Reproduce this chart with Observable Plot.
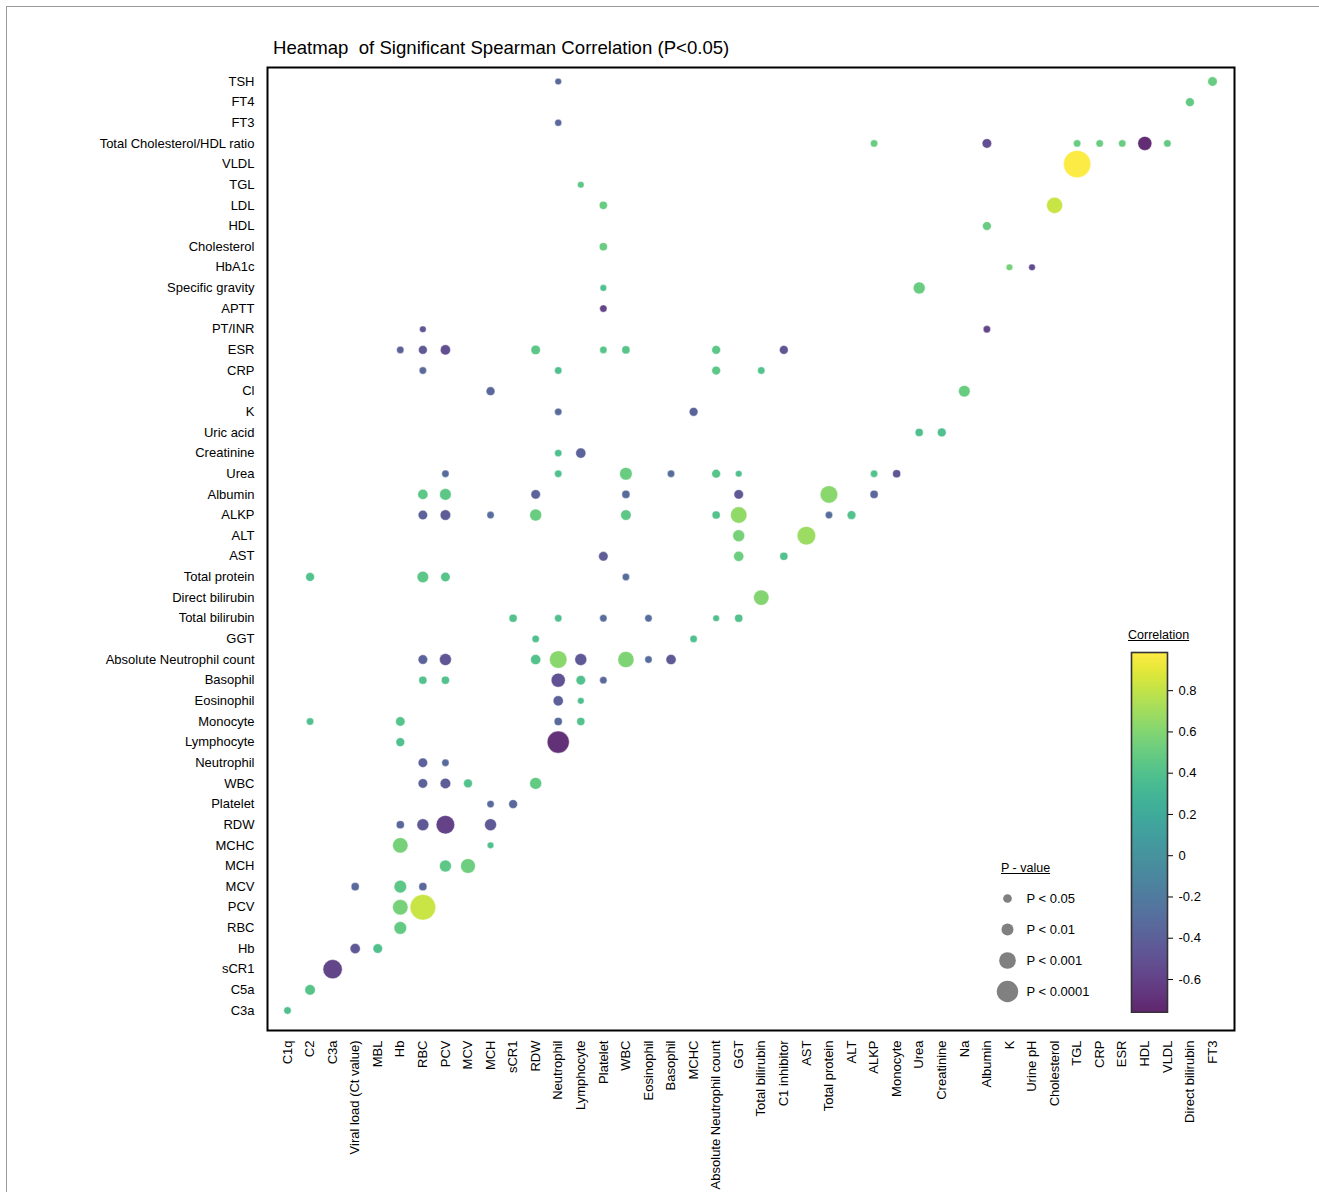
<!DOCTYPE html>
<html>
<head>
<meta charset="utf-8">
<script src="https://cdn.jsdelivr.net/npm/d3@7"></script>
<script src="https://cdn.jsdelivr.net/npm/@observablehq/plot@0.6"></script>
<style>
  html, body { margin: 0; padding: 0; background: #fff; }
  body { width: 1319px; height: 1192px; overflow: hidden; font-family: "Liberation Sans", Arial, Helvetica, sans-serif; }
  #wrap { position: relative; width: 1319px; height: 1192px; }
  #border { position: absolute; left: 6px; top: 6px; width: 1320px; height: 1200px; border-top: 1.5px solid #9a9a9a; border-left: 1.5px solid #9a9a9a; }
  #title { position: absolute; left: 273px; top: 37px; font-size: 18.6px; color: #000; white-space: pre; }
  .ltitle { position: absolute; font-size: 12.5px; text-decoration: underline; color: #000; }
  .over { position: absolute; }
</style>
</head>
<body>
<div id="wrap">
  <div id="border"></div>
  <div id="main" class="over" style="left:0;top:0"></div>
  <div id="title">Heatmap  of Significant Spearman Correlation (P&lt;0.05)</div>
  <div class="ltitle" style="left:1128px;top:628px">Correlation</div>
  <div id="cbar" class="over" style="left:1130px;top:651px"></div>
  <div class="ltitle" style="left:1001px;top:861px">P - value</div>
  <div id="plegend" class="over" style="left:985px;top:880px"></div>
</div>
<script>
// ---- Categories ----
const xCategories = ["C1q","C2","C3a","Viral load (Ct value)","MBL","Hb","RBC","PCV","MCV","MCH","sCR1","RDW",
  "Neutrophil","Lymphocyte","Platelet","WBC","Eosinophil","Basophil","MCHC","Absolute Neutrophil count","GGT",
  "Total bilirubin","C1 inhibitor","AST","Total protein","ALT","ALKP","Monocyte","Urea","Creatinine","Na",
  "Albumin","K","Urine pH","Cholesterol","TGL","CRP","ESR","HDL","VLDL","Direct bilirubin","FT3"];

const yCategories = ["TSH","FT4","FT3","Total Cholesterol/HDL ratio","VLDL","TGL","LDL","HDL","Cholesterol","HbA1c",
  "Specific gravity","APTT","PT/INR","ESR","CRP","Cl","K","Uric acid","Creatinine","Urea","Albumin","ALKP","ALT",
  "AST","Total protein","Direct bilirubin","Total bilirubin","GGT","Absolute Neutrophil count","Basophil","Eosinophil",
  "Monocyte","Lymphocyte","Neutrophil","WBC","Platelet","RDW","MCHC","MCH","MCV","PCV","RBC","Hb","sCR1","C5a","C3a"];

// ---- Significant pairs: [row, column, Spearman rho, -log10(p)] ----
const significantPairs = [
  ["TSH","Neutrophil",-0.35,1.9], ["TSH","FT3",0.50,2.7],
  ["FT4","Direct bilirubin",0.48,2.5],
  ["FT3","Neutrophil",-0.35,2.0],
  ["Total Cholesterol/HDL ratio","ALKP",0.50,2.1], ["Total Cholesterol/HDL ratio","Albumin",-0.52,2.7],
  ["Total Cholesterol/HDL ratio","TGL",0.50,2.1], ["Total Cholesterol/HDL ratio","CRP",0.50,2.1],
  ["Total Cholesterol/HDL ratio","ESR",0.50,2.1], ["Total Cholesterol/HDL ratio","HDL",-0.72,4.0],
  ["Total Cholesterol/HDL ratio","VLDL",0.48,2.1],
  ["VLDL","TGL",0.98,7.8],
  ["TGL","Lymphocyte",0.45,1.9],
  ["LDL","Platelet",0.50,2.3], ["LDL","Cholesterol",0.82,4.6],
  ["HDL","Albumin",0.50,2.5],
  ["Cholesterol","Platelet",0.50,2.3],
  ["HbA1c","K",0.55,1.9], ["HbA1c","Urine pH",-0.55,1.9],
  ["Specific gravity","Platelet",0.38,1.9], ["Specific gravity","Urea",0.50,3.4],
  ["APTT","Platelet",-0.58,2.1],
  ["PT/INR","RBC",-0.48,1.9], ["PT/INR","Albumin",-0.58,2.1],
  ["ESR","Hb",-0.40,2.1], ["ESR","RBC",-0.45,2.5], ["ESR","PCV",-0.52,2.9], ["ESR","RDW",0.45,2.7],
  ["ESR","Platelet",0.42,2.1], ["ESR","WBC",0.42,2.3], ["ESR","Absolute Neutrophil count",0.45,2.5],
  ["ESR","C1 inhibitor",-0.48,2.5],
  ["CRP","RBC",-0.35,2.1], ["CRP","Neutrophil",0.38,2.1], ["CRP","Absolute Neutrophil count",0.45,2.5],
  ["CRP","Total bilirubin",0.40,2.1],
  ["Cl","MCH",-0.35,2.5], ["Cl","Na",0.50,3.3],
  ["K","Neutrophil",-0.32,2.1], ["K","MCHC",-0.38,2.5],
  ["Uric acid","Urea",0.38,2.3], ["Uric acid","Creatinine",0.38,2.5],
  ["Creatinine","Neutrophil",0.38,2.1], ["Creatinine","Lymphocyte",-0.38,2.9],
  ["Urea","PCV",-0.32,2.1], ["Urea","Neutrophil",0.38,2.1], ["Urea","WBC",0.50,3.6], ["Urea","Basophil",-0.32,2.1],
  ["Urea","Absolute Neutrophil count",0.42,2.5], ["Urea","GGT",0.38,1.9], ["Urea","ALKP",0.40,2.1],
  ["Urea","Monocyte",-0.48,2.3],
  ["Albumin","RBC",0.45,2.9], ["Albumin","PCV",0.45,3.3], ["Albumin","RDW",-0.38,2.7], ["Albumin","WBC",-0.32,2.3],
  ["Albumin","GGT",-0.45,2.7], ["Albumin","Total protein",0.62,5.0], ["Albumin","ALKP",-0.35,2.3],
  ["ALKP","RBC",-0.38,2.7], ["ALKP","PCV",-0.42,3.0], ["ALKP","MCH",-0.30,2.1], ["ALKP","RDW",0.50,3.4],
  ["ALKP","WBC",0.45,3.0], ["ALKP","Absolute Neutrophil count",0.40,2.3], ["ALKP","GGT",0.65,4.7],
  ["ALKP","Total protein",-0.30,2.1], ["ALKP","ALT",0.40,2.5],
  ["ALT","GGT",0.55,3.4], ["ALT","AST",0.68,5.3],
  ["AST","Platelet",-0.42,2.7], ["AST","GGT",0.52,2.9], ["AST","C1 inhibitor",0.40,2.3],
  ["Total protein","C2",0.40,2.5], ["Total protein","RBC",0.45,3.3], ["Total protein","PCV",0.42,2.7],
  ["Total protein","WBC",-0.30,2.1],
  ["Direct bilirubin","Total bilirubin",0.60,4.4],
  ["Total bilirubin","sCR1",0.40,2.3], ["Total bilirubin","Neutrophil",0.38,2.1], ["Total bilirubin","Platelet",-0.30,2.1],
  ["Total bilirubin","Eosinophil",-0.30,2.1], ["Total bilirubin","Absolute Neutrophil count",0.38,1.9],
  ["Total bilirubin","GGT",0.40,2.3],
  ["GGT","RDW",0.38,2.1], ["GGT","MCHC",0.38,2.1],
  ["Absolute Neutrophil count","RBC",-0.38,2.7], ["Absolute Neutrophil count","PCV",-0.48,3.4],
  ["Absolute Neutrophil count","RDW",0.40,2.9], ["Absolute Neutrophil count","Neutrophil",0.62,5.0],
  ["Absolute Neutrophil count","Lymphocyte",-0.45,3.4], ["Absolute Neutrophil count","WBC",0.58,4.6],
  ["Absolute Neutrophil count","Eosinophil",-0.30,2.1], ["Absolute Neutrophil count","Basophil",-0.45,2.9],
  ["Basophil","RBC",0.40,2.3], ["Basophil","PCV",0.40,2.3], ["Basophil","Neutrophil",-0.50,4.0],
  ["Basophil","Lymphocyte",0.40,2.7], ["Basophil","Platelet",-0.35,2.1],
  ["Eosinophil","Neutrophil",-0.40,2.9], ["Eosinophil","Lymphocyte",0.38,1.9],
  ["Monocyte","C2",0.38,2.1], ["Monocyte","Hb",0.42,2.7], ["Monocyte","Neutrophil",-0.33,2.3],
  ["Monocyte","Lymphocyte",0.40,2.3],
  ["Lymphocyte","Hb",0.38,2.5], ["Lymphocyte","Neutrophil",-0.70,6.3],
  ["Neutrophil","RBC",-0.38,2.7], ["Neutrophil","PCV",-0.33,2.1],
  ["WBC","RBC",-0.38,2.7], ["WBC","PCV",-0.42,3.0], ["WBC","MCV",0.40,2.5], ["WBC","RDW",0.48,3.4],
  ["Platelet","MCH",-0.32,2.1], ["Platelet","sCR1",-0.35,2.5],
  ["RDW","Hb",-0.35,2.3], ["RDW","RBC",-0.45,3.4], ["RDW","PCV",-0.60,5.3], ["RDW","MCH",-0.45,3.4],
  ["MCHC","Hb",0.55,4.4], ["MCHC","MCH",0.38,1.9],
  ["MCH","PCV",0.45,3.4], ["MCH","MCV",0.52,4.2],
  ["MCV","Viral load (Ct value)",-0.35,2.3], ["MCV","Hb",0.45,3.6], ["MCV","RBC",-0.35,2.3],
  ["PCV","Hb",0.55,4.4], ["PCV","RBC",0.82,7.3],
  ["RBC","Hb",0.48,3.6],
  ["Hb","Viral load (Ct value)",-0.45,2.9], ["Hb","MBL",0.38,2.7],
  ["sCR1","C3a",-0.58,5.5],
  ["C5a","C2",0.42,3.0],
  ["C3a","C1q",0.38,2.1]
];

// ---- Legend definitions ----
const colorDomain = [-0.76, 0.985];
const colorTicks = [-0.6, -0.4, -0.2, 0, 0.2, 0.4, 0.6, 0.8];
const pLegendLabels = ["P < 0.05", "P < 0.01", "P < 0.001", "P < 0.0001"];
const pLegendNegLog = [1.3, 2, 3, 4];

const FONT = '"Liberation Sans", Arial, Helvetica, sans-serif';
const OPACITY = 0.85;

const rows = significantPairs.map(([row, col, rho, nlp]) => ({row, col, rho, nlp}));

// ---- Main bubble heatmap ----
const main = Plot.plot({
  width: 1319,
  height: 1192,
  marginLeft: 267,
  marginRight: 85,
  marginTop: 67,
  marginBottom: 162,
  style: {fontFamily: FONT, fontSize: "13px", color: "#000", background: "transparent"},
  x: {type: "point", domain: xCategories, range: [287, 1212], padding: 0, round: false, label: null, tickRotate: -90, tickSize: 0, tickPadding: 10},
  y: {type: "point", domain: yCategories, range: [81, 1010], padding: 0, round: false, label: null, tickSize: 0, tickPadding: 13},
  color: {type: "linear", scheme: "viridis", domain: colorDomain},
  r: {type: "linear", domain: [0, 8], range: [0, 14]},
  marks: [
    Plot.dot(rows, {x: "col", y: "row", r: "nlp", fill: "rho", fillOpacity: OPACITY, stroke: "white", strokeWidth: 0.6, strokeOpacity: 0.7}),
    Plot.frame({stroke: "#000", strokeWidth: 2})
  ]
});
document.getElementById("main").appendChild(main);

// ---- Colour bar ----
const step = 0.004;
const barSteps = d3.range(colorDomain[0], colorDomain[1], step);
const cbar = Plot.plot({
  width: 80,
  height: 362,
  marginLeft: 1,
  marginRight: 43,
  marginTop: 1,
  marginBottom: 1,
  style: {fontFamily: FONT, fontSize: "13px", color: "#000", background: "transparent"},
  x: {domain: [0, 1], axis: null},
  y: {domain: colorDomain, axis: "right", ticks: colorTicks, tickFormat: d => d === 0 ? "0" : d.toFixed(1), tickSize: 5, tickPadding: 6, label: null},
  color: {type: "linear", scheme: "viridis", domain: colorDomain},
  marks: [
    Plot.rect(barSteps, {x1: 0, x2: 1, y1: d => d, y2: d => Math.min(d + step * 2, colorDomain[1]), fill: d => d + step / 2, shapeRendering: "crispEdges"}),
    Plot.rect([colorDomain], {x1: 0, x2: 1, y1: d => d[0], y2: d => d[1], fill: "white", fillOpacity: 1 - OPACITY}),
    Plot.frame({stroke: "#333", strokeWidth: 1.6})
  ]
});
document.getElementById("cbar").appendChild(cbar);

// ---- P-value legend ----
const pLeg = pLegendLabels.map((label, i) => ({label, nlp: pLegendNegLog[i]}));
const plegend = Plot.plot({
  width: 200,
  height: 130,
  margin: 0,
  style: {fontFamily: FONT, fontSize: "13px", color: "#000", background: "transparent"},
  x: {domain: [0, 1], range: [22, 200], axis: null},
  y: {type: "point", domain: pLegendLabels, range: [18, 111], padding: 0, round: false, axis: null},
  r: {type: "linear", domain: [0, 4], range: [1.3, 10.7]},
  marks: [
    Plot.dot(pLeg, {x: 0, y: "label", r: "nlp", fill: "#808080"}),
    Plot.text(pLeg, {x: 0, y: "label", text: "label", dx: 19, textAnchor: "start", fill: "#000"})
  ]
});
document.getElementById("plegend").appendChild(plegend);
</script>
</body>
</html>
